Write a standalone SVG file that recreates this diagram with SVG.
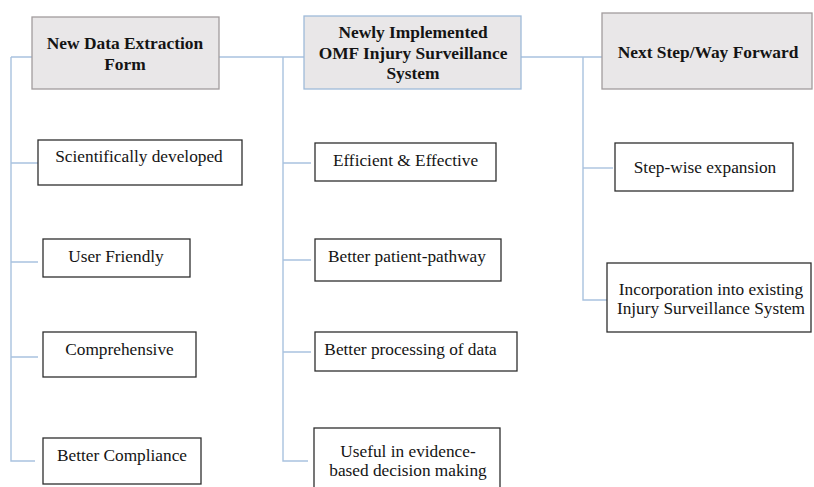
<svg xmlns="http://www.w3.org/2000/svg" width="814" height="487" viewBox="0 0 814 487">
  <style>
    .hdr { fill: #e9e7e8; stroke: #a29c9d; stroke-width: 1.3; }
    .hdr-blue { stroke: #9fbad9; }
    .box { fill: #ffffff; stroke: #2e2e2e; stroke-width: 1.3; }
    .conn { fill: none; stroke: #a9c2df; stroke-width: 1.4; }
    .ht { font-family: "Liberation Serif", "Times New Roman", serif; font-weight: bold; font-size: 17.4px; fill: #141414; text-anchor: middle; }
    .bt { font-family: "Liberation Serif", "Times New Roman", serif; font-size: 17.3px; fill: #141414; text-anchor: middle; }
  </style>
  <rect width="814" height="487" fill="#ffffff"/>

  <!-- connector lines -->
  <g id="connectors">
    <!-- top bus between headers -->
    <path class="conn" d="M11 57 H32 M219 57 H304 M521 57 H602"/>
    <!-- left column -->
    <path class="conn" d="M11 57 V461 H35"/>
    <path class="conn" d="M11 163 H38 M11 262 H38 M11 357 H38"/>
    <!-- middle column -->
    <path class="conn" d="M283 57 V461 H308"/>
    <path class="conn" d="M283 163 H311 M283 260 H311 M283 352 H311"/>
    <!-- right column -->
    <path class="conn" d="M583 57 V300 H607"/>
    <path class="conn" d="M583 168 H613"/>
  </g>

  <!-- headers -->
  <g id="hdr-extraction">
    <rect class="hdr" x="32" y="17" width="187" height="72"/>
    <text class="ht" x="125" y="49">New Data Extraction</text>
    <text class="ht" x="125" y="70">Form</text>
  </g>
  <g id="hdr-omf">
    <rect class="hdr hdr-blue" x="304" y="16" width="217" height="73"/>
    <text class="ht" x="413" y="38">Newly Implemented</text>
    <text class="ht" x="413" y="59">OMF Injury Surveillance</text>
    <text class="ht" x="413" y="79">System</text>
  </g>
  <g id="hdr-next">
    <rect class="hdr" x="602" y="13" width="210" height="76"/>
    <text class="ht" x="708" y="58">Next Step/Way Forward</text>
  </g>

  <!-- left column items -->
  <g id="n-scientific">
    <rect class="box" x="38" y="140" width="204" height="45"/>
    <text class="bt" x="139" y="162">Scientifically developed</text>
  </g>
  <g id="n-user-friendly">
    <rect class="box" x="43" y="239" width="147" height="38"/>
    <text class="bt" x="116" y="262">User Friendly</text>
  </g>
  <g id="n-comprehensive">
    <rect class="box" x="43" y="332" width="153" height="45"/>
    <text class="bt" x="119.5" y="355">Comprehensive</text>
  </g>
  <g id="n-compliance">
    <rect class="box" x="43" y="438" width="158" height="46"/>
    <text class="bt" x="122" y="461">Better Compliance</text>
  </g>

  <!-- middle column items -->
  <g id="n-efficient">
    <rect class="box" x="315" y="143" width="181" height="38"/>
    <text class="bt" x="405.5" y="166">Efficient &amp; Effective</text>
  </g>
  <g id="n-pathway">
    <rect class="box" x="315" y="239" width="186" height="42"/>
    <text class="bt" x="407" y="262">Better patient-pathway</text>
  </g>
  <g id="n-processing">
    <rect class="box" x="315" y="332" width="202" height="39"/>
    <text class="bt" x="410.5" y="355">Better processing of data</text>
  </g>
  <g id="n-evidence">
    <rect class="box" x="314" y="428" width="186" height="70"/>
    <text class="bt" x="408" y="457">Useful in evidence-</text>
    <text class="bt" x="408" y="476">based decision making</text>
  </g>

  <!-- right column items -->
  <g id="n-stepwise">
    <rect class="box" x="615" y="143" width="178" height="48"/>
    <text class="bt" x="705" y="173">Step-wise expansion</text>
  </g>
  <g id="n-incorporation">
    <rect class="box" x="607" y="263" width="204" height="69"/>
    <text class="bt" x="711" y="295">Incorporation into existing</text>
    <text class="bt" x="711" y="314">Injury Surveillance System</text>
  </g>
</svg>
